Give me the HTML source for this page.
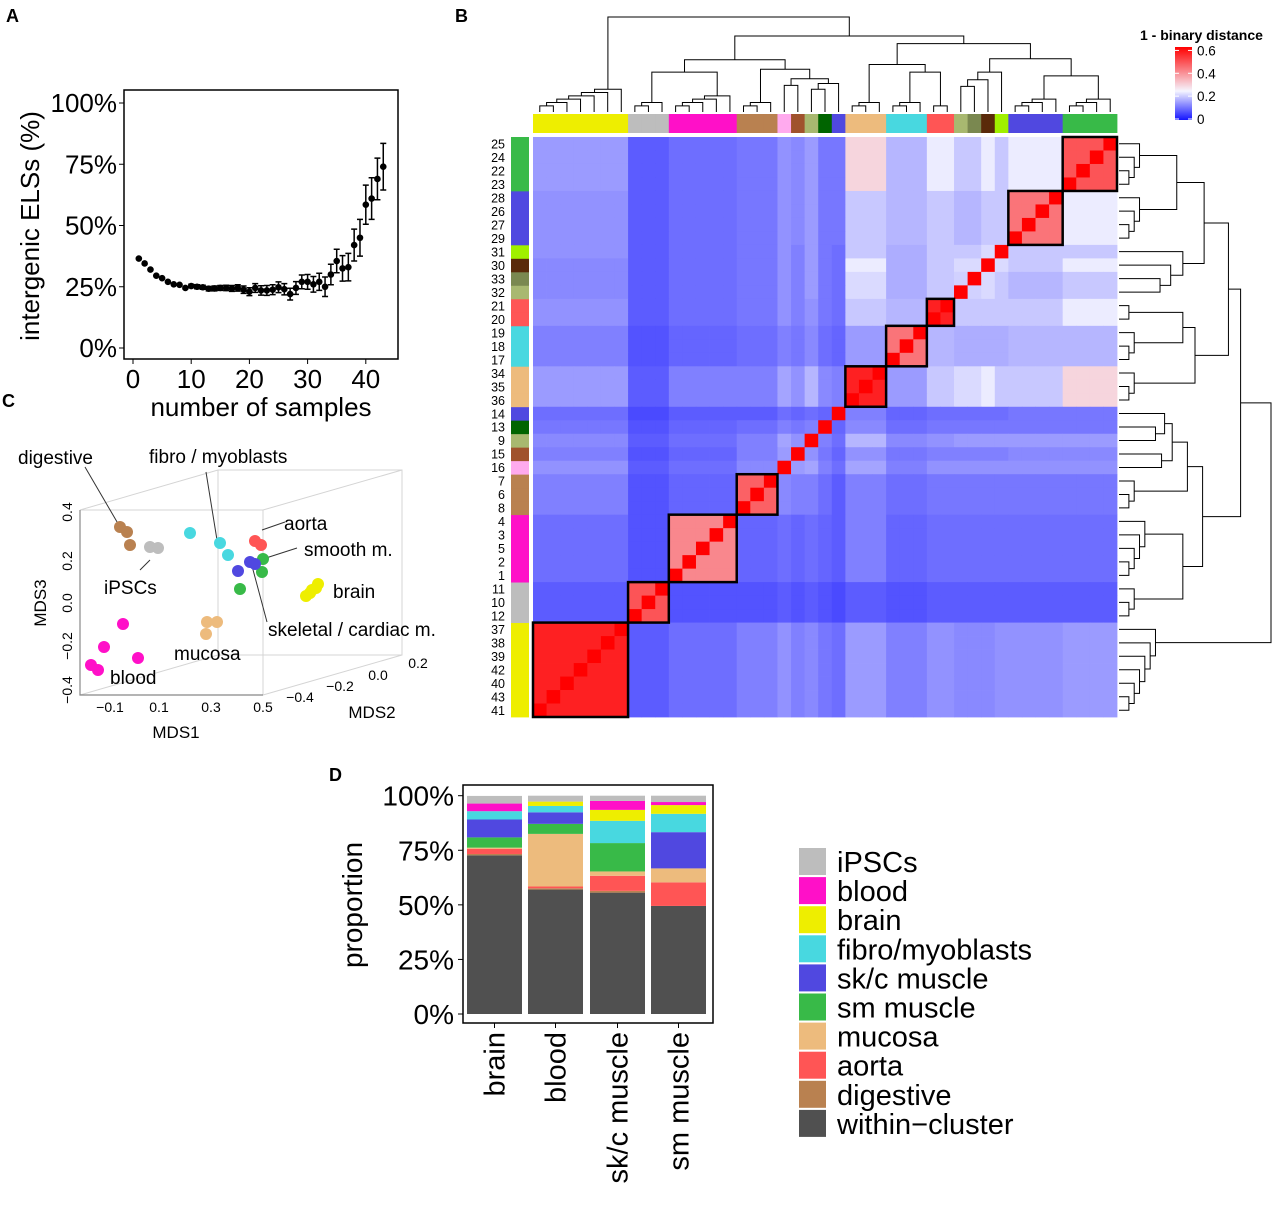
<!DOCTYPE html>
<html><head><meta charset="utf-8">
<style>
body{margin:0;background:#fff;}
svg text{font-family:"Liberation Sans",Arial,sans-serif;}
</style></head>
<body>
<svg id="fig" width="1280" height="1203" viewBox="0 0 1280 1203" xmlns="http://www.w3.org/2000/svg">
<g id="pA"></g>
<g id="pB"></g>
<g id="pC"></g>
<g id="pD"></g>
</svg>
<script>
// ---------- Panel A data ----------
const aSamples = [1,2,3,4,5,6,7,8,9,10,11,12,13,14,15,16,17,18,19,20,21,22,23,24,25,26,27,28,29,30,31,32,33,34,35,36,37,38,39,40,41,42,43];
const aMeans = [36.5,34.5,32,29.5,28.5,27,26,25.8,24.5,25.3,25,24.8,24.2,24.3,24.5,24.5,24.3,24.5,23.8,23,24.5,23.5,23.5,23.8,24.8,24,22,24.5,27,27,26,27,25,30,35.5,32.5,33,42,45,58.5,61,69,74];
const aErrs = [0.3,0.3,0.3,0.3,0.3,0.4,0.4,0.5,0.6,0.7,0.8,0.8,0.9,1,1,1.1,1.2,1.3,1.5,1.6,1.8,1.9,2,2,2.2,2.3,2.4,2.6,2.8,3,3.2,3.5,4,4.2,4.8,5.2,5.6,6.5,7.5,8,8.5,8.5,9.5];
const aYTicks = [0,25,50,75,100];
const aXTicks = [0,10,20,30,40];

// ---------- Panel B data ----------
const bGroupNames = ["brain","iPSC","blood","digestive","pink","brown","olive","darkgreen","blue1","mucosa","fibro","aorta","olive2","darkolive","darkbrown","lime","skc","sm"];
const bGroupColors = ["#EEEE00","#BDBDBD","#FF10C8","#B98150","#FFAAEE","#A0522D","#A8B870","#006400","#5048E0","#EDBB7D","#48D8E0","#FF5555","#A8B870","#7A8850","#5A2A0A","#A0F000","#5048E0","#38BA48"];
const bGroupSizes = [7,3,5,3,1,1,1,1,1,3,3,2,1,1,1,1,4,4];
const bLeafLabels = ["41","43","40","42","39","38","37","12","10","11","1","2","5","3","4","8","6","7","16","15","9","13","14","36","35","34","17","18","19","20","21","32","33","30","31","29","27","26","28","23","22","24","25"];
const bSim = [
[.58,.08,.10,.12,.14,.12,.13,.11,.10,.15,.12,.14,.13,.13,.13,.14,.14,.15],
[.08,.50,.07,.07,.08,.07,.08,.07,.06,.08,.07,.08,.08,.08,.08,.08,.08,.08],
[.10,.07,.42,.09,.10,.09,.10,.09,.08,.12,.09,.10,.10,.10,.10,.10,.10,.10],
[.12,.07,.09,.48,.13,.12,.12,.10,.08,.12,.10,.11,.11,.11,.11,.11,.11,.11],
[.14,.08,.10,.13,1,.15,.16,.12,.10,.16,.12,.14,.14,.14,.14,.14,.14,.14],
[.12,.07,.09,.12,.15,1,.14,.11,.09,.14,.11,.12,.12,.12,.12,.12,.13,.13],
[.13,.08,.10,.12,.16,.14,1,.12,.10,.18,.13,.14,.15,.15,.15,.15,.15,.15],
[.11,.07,.09,.10,.12,.11,.12,1,.09,.13,.10,.11,.11,.11,.11,.11,.11,.11],
[.10,.06,.08,.08,.10,.09,.10,.09,1,.12,.09,.10,.10,.10,.10,.10,.11,.11],
[.15,.08,.12,.12,.16,.14,.18,.13,.12,.58,.15,.20,.22,.22,.24,.20,.20,.30],
[.12,.07,.09,.10,.12,.11,.13,.10,.09,.15,.45,.18,.17,.17,.17,.17,.18,.18],
[.14,.08,.10,.11,.14,.12,.14,.11,.10,.20,.18,.58,.20,.20,.20,.20,.20,.24],
[.13,.08,.10,.11,.14,.12,.15,.11,.10,.22,.17,.20,1,.21,.22,.20,.18,.20],
[.13,.08,.10,.11,.14,.12,.15,.11,.10,.22,.17,.20,.21,1,.22,.20,.18,.20],
[.13,.08,.10,.11,.14,.12,.15,.11,.10,.24,.17,.20,.22,.22,1,.22,.20,.24],
[.14,.08,.10,.11,.14,.12,.15,.11,.10,.20,.17,.20,.20,.20,.22,1,.20,.20],
[.14,.08,.10,.11,.14,.13,.15,.11,.11,.20,.18,.20,.18,.18,.20,.20,.45,.24],
[.15,.08,.10,.11,.14,.13,.15,.11,.11,.30,.18,.24,.20,.20,.24,.20,.24,.50]];
const bBoxedGroups = [0,1,2,3,9,10,11,16,17];
const bTree = [1.0, 0, [0.8, [0.55,[0.42,1,2],[0.45,3,[0.35,[0.28,4,5],[0.3,[0.24,6,7],8]]]], [0.72,[0.5,9,[0.42,10,11]],[0.56,[0.42,[0.34,[0.27,12,13],14],15],[0.38,16,17]]]]];
const bLegendTicks = [0,0.2,0.4,0.6];

// ---------- Panel C data ----------
const cGroups = ["digestive","iPSCs","fibro","aorta","smooth","skeletal","brain","mucosa","blood"];
const cColors = ["#B98150","#BDBDBD","#48D8E0","#FF5555","#38BA48","#5048E0","#EEEE00","#EDBB7D","#FF10C8"];
const cPtsX = [[120,127,130],[150,158],[190,220,228],[255,261],[263,262,240],[238,250,255],[312,318,306,310,316],[207,217,206],[123,104,138,91,98]];
const cPtsY = [[527,532,545],[547,548],[533,543,555],[541,545],[559,572,589],[571,562,564],[590,584,596,593,588],[622,622,634],[624,647,658,665,670]];

// ---------- Panel D data ----------
const dCats = ["brain","blood","sk/c muscle","sm muscle"];
const dSeries = ["within\u2212cluster","digestive","aorta","mucosa","sm muscle","sk/c muscle","fibro/myoblasts","brain","blood","iPSCs"];
const dColors = ["#505050","#B98150","#FF5555","#EDBB7D","#38BA48","#5048E0","#48D8E0","#EEEE00","#FF10C8","#BDBDBD"];
const dWithin = [72.7,57,55.6,49.5];
const dDigestive = [0.6,0.6,0.8,0];
const dAorta = [2.3,0.8,6.9,10.8];
const dMucosa = [0.6,24.1,2,6.4];
const dSm = [4.7,4.6,13,0];
const dSk = [8.2,5.3,0,16.6];
const dFibro = [3.8,2.9,10.2,8.4];
const dBrain = [0,2,5,4];
const dBlood = [3.5,0,4.1,1.4];
const dIpsc = [3.5,2.7,2.4,2.9];
const dYTicks = [0,25,50,75,100];

const NS="http://www.w3.org/2000/svg";
function mk(parent,tag,attrs,text){const e=document.createElementNS(NS,tag);for(const k in attrs)e.setAttribute(k,attrs[k]);if(text!==undefined)e.textContent=text;parent.appendChild(e);return e;}

// ===== Panel A =====
(function(){
const g=document.getElementById('pA');
const X=n=>133+n*5.82, Y=v=>348-v*2.45;
let t=mk(g,'text',{x:6,y:22,'font-size':18,'font-weight':'bold'},'A');


let r=mk(g,'rect',{x:124,y:90,width:274,height:269,fill:'none',stroke:'#000','stroke-width':1.5});


aYTicks.forEach(v=>{
 mk(g,'line',{x1:119,x2:124,y1:Y(v),y2:Y(v),stroke:'#000'});
 let tx=mk(g,'text',{x:117,y:Y(v)+9,'font-size':26,'text-anchor':'end'},v+'%');
 
 
});
aXTicks.forEach(v=>{
 mk(g,'line',{x1:X(v),x2:X(v),y1:359,y2:364,stroke:'#000'});
 let tx=mk(g,'text',{x:X(v),y:388,'font-size':26,'text-anchor':'middle'},v);
 
 
});
let yt=mk(g,'text',{x:0,y:0,'font-size':26,'text-anchor':'middle',transform:'translate(39,226) rotate(-90)'},'intergenic ELSs (%)');


let xt=mk(g,'text',{x:261,y:416,'font-size':26,'text-anchor':'middle'},'number of samples');


aSamples.forEach((n,i)=>{
 const x=X(n),m=aMeans[i],e=aErrs[i];
 if(e>0.6){
  const eb=mk(g,'path',{d:`M${x-3},${Y(m+e)}H${x+3}M${x},${Y(m+e)}V${Y(m-e)}M${x-3},${Y(m-e)}H${x+3}`,stroke:'#000','stroke-width':1.5,fill:'none'});
  
  
 }
 const c=mk(g,'circle',{cx:x,cy:Y(m),r:3.3,fill:'#000'});
 
 
});
})();

// ===== Panel B =====
(function(){
const g=document.getElementById('pB');
const x0=533,y0=137,N=43,cw=(1117-533)/N,rh=(717-137)/N;
let t=mk(g,'text',{x:455,y:22,'font-size':18,'font-weight':'bold'},'B');


const leafGroup=[];const groupStart=[];
bGroupSizes.forEach((s,gi)=>{groupStart.push(leafGroup.length);for(let k=0;k<s;k++)leafGroup.push(gi);});
function col(v){
 const lo=[20,20,255],mid=[245,245,255],hi=[255,0,0];let a,b,t;
 if(v<=0.25){a=lo;b=mid;t=v/0.25;}else{a=mid;b=hi;t=Math.min(1,(v-0.25)/0.38);}
 return 'rgb('+a.map((c,i)=>Math.round(c+(b[i]-c)*t)).join(',')+')';
}
const hm=mk(g,'g',{});


for(let i=0;i<N;i++){const ri=N-1-i;for(let j=0;j<N;j++){
 const gr=leafGroup[ri],gc=leafGroup[j];
 let v=(ri===j)?1:bSim[Math.min(gr,gc)][Math.max(gr,gc)];
 const c=mk(hm,'rect',{x:x0+j*cw,y:y0+i*rh,width:cw+0.4,height:rh+0.4,fill:col(v)});
 
 
}}
bBoxedGroups.forEach(gi=>{
 const s=groupStart[gi],n=bGroupSizes[gi];
 const b=mk(g,'rect',{x:x0+s*cw,y:y0+(N-s-n)*rh,width:n*cw,height:n*rh,fill:'none',stroke:'#000','stroke-width':2.5});
 
 
});
for(let j=0;j<N;j++){
 const c=mk(g,'rect',{x:x0+j*cw,y:114,width:cw+0.4,height:19,fill:bGroupColors[leafGroup[j]]});
 
 
 const r=mk(g,'rect',{x:511,y:y0+(N-1-j)*rh,width:18,height:rh+0.4,fill:bGroupColors[leafGroup[j]]});
 
 
 const l=mk(g,'text',{x:505,y:y0+(N-1-j)*rh+rh-2,'font-size':12.5,'text-anchor':'end'},bLeafLabels[j]);
 
 
}
function groupSub(gi){const s=groupStart[gi],n=bGroupSizes[gi];let node={leaf:s};
 for(let k=1;k<n;k++)node={h:0.03+0.035*k,l:node,r:{leaf:s+k}};return node;}
function conv(t){if(typeof t==='number')return groupSub(t);return {h:t[0],l:conv(t[1]),r:conv(t[2])};}
const tree=conv(bTree);
const segsTop=[];
function walk(n){if(n.leaf!==undefined)return {p:n.leaf+0.5,h:0};
 const a=walk(n.l),b=walk(n.r);
 segsTop.push([a.p,a.h,b.p,b.h,n.h]);return {p:(a.p+b.p)/2,h:n.h};}
walk(tree);
const dt=mk(g,'path',{fill:'none',stroke:'#000','stroke-width':1,d:segsTop.map(s=>{
 const X=p=>x0+p*cw,Y=h=>112-h*95;
 return `M${X(s[0])},${Y(s[1])}V${Y(s[4])}H${X(s[2])}V${Y(s[3])}`;}).join('')});


const dr=mk(g,'path',{fill:'none',stroke:'#000','stroke-width':1,d:segsTop.map(s=>{
 const Y=p=>y0+(N-p)*rh,X=h=>1119+h*152;
 return `M${X(s[1])},${Y(s[0])}H${X(s[4])}V${Y(s[2])}H${X(s[3])}`;}).join('')});


const defs=mk(g,'defs',{});const lg=mk(defs,'linearGradient',{id:'lg',x1:0,y1:1,x2:0,y2:0});
[0,0.1,0.2,0.25,0.35,0.45,0.55,0.63].forEach(v=>mk(lg,'stop',{offset:v/0.63,'stop-color':col(v)}));
let lt=mk(g,'text',{x:1140,y:40,'font-size':14,'font-weight':'bold'},'1 - binary distance');


let lb=mk(g,'rect',{x:1175,y:47,width:17,height:73,fill:'url(#lg)'});


bLegendTicks.forEach(v=>{const y=119-v/0.63*72;
 mk(g,'line',{x1:1175,x2:1179,y1:y,y2:y,stroke:'#fff'});mk(g,'line',{x1:1188,x2:1192,y1:y,y2:y,stroke:'#fff'});
 const tx=mk(g,'text',{x:1197,y:y+5,'font-size':13.5},String(v));
 
 
});
})();

// ===== Panel C =====
(function(){
const g=document.getElementById('pC');
let t=mk(g,'text',{x:2,y:407,'font-size':18,'font-weight':'bold'},'C');


const box=mk(g,'path',{fill:'none',stroke:'#d4d4d4','stroke-width':1,d:'M80,510L218,470H402V655H218V470M263,510L402,470M263,695L402,655M80,510H263V695M218,655L80,695'});


mk(g,'path',{fill:'none',stroke:'#888','stroke-width':1.2,d:'M80,510V695H263'});
[[0.4,512],[0.2,561],[0.0,603],[-0.2,646],[-0.4,690]].forEach(a=>{
 const tx=mk(g,'text',{x:0,y:0,'font-size':14,'text-anchor':'middle',transform:`translate(72,${a[1]}) rotate(-90)`},a[0].toFixed(1).replace('-','\u2212'));
 
 
});
[['\u22120.1',110],['0.1',159],['0.3',211],['0.5',263]].forEach(a=>{
 const tx=mk(g,'text',{x:a[1],y:712,'font-size':14,'text-anchor':'middle'},a[0]);
 
 
});
[['\u22120.4',300,702],['\u22120.2',340,691],['0.0',378,680],['0.2',418,668]].forEach(a=>{
 const tx=mk(g,'text',{x:a[1],y:a[2],'font-size':14,'text-anchor':'middle'},a[0]);
 
 
});
[['MDS1',176,738],['MDS2',372,718]].forEach(a=>{
 const tx=mk(g,'text',{x:a[1],y:a[2],'font-size':17,'text-anchor':'middle'},a[0]);
 
 
});
let m3=mk(g,'text',{x:0,y:0,'font-size':17,'text-anchor':'middle',transform:'translate(46,603) rotate(-90)'},'MDS3');


mk(g,'path',{fill:'none',stroke:'#333','stroke-width':1,d:'M85,467L120,527M206,472L217,540M262,530L285,522M266,558L297,548M252,566L267,622M140,570L150,560'});
cPtsX.forEach((xs,gi)=>xs.forEach((x,k)=>{
 const c=mk(g,'circle',{cx:x,cy:cPtsY[gi][k],r:6,fill:cColors[gi]});
 
 
}));
[['digestive',18,464],['fibro / myoblasts',149,463],['aorta',284,530],['smooth m.',304,556],['iPSCs',104,594],['brain',333,598],['skeletal / cardiac m.',268,636],['mucosa',174,660],['blood',110,684]].forEach(a=>{
 const tx=mk(g,'text',{x:a[1],y:a[2],'font-size':19},a[0]);
 
 
});
})();

// ===== Panel D =====
(function(){
const g=document.getElementById('pD');
const Y=v=>1014-v*2.183;
let t=mk(g,'text',{x:329,y:781,'font-size':18,'font-weight':'bold'},'D');


const series=[dWithin,dDigestive,dAorta,dMucosa,dSm,dSk,dFibro,dBrain,dBlood,dIpsc];
const bx=[467,528,590,651],bw=55;
dCats.forEach((c,i)=>{let acc=0;
 series.forEach((s,k)=>{const v=s[i];if(v<=0)return;
  const r=mk(g,'rect',{x:bx[i],y:Y(acc+v),width:bw,height:Y(acc)-Y(acc+v),fill:dColors[k]});
  
  
  acc+=v;});
 mk(g,'line',{x1:bx[i]+bw/2,x2:bx[i]+bw/2,y1:1023,y2:1028,stroke:'#000'});
 const tx=mk(g,'text',{x:0,y:0,'font-size':29,'text-anchor':'end',transform:`translate(${bx[i]+bw/2+10},1032) rotate(-90)`},c);
 
 
});
const fr=mk(g,'rect',{x:463,y:785,width:250,height:238,fill:'none',stroke:'#000','stroke-width':1.5});


dYTicks.forEach(v=>{mk(g,'line',{x1:458,x2:463,y1:Y(v),y2:Y(v),stroke:'#000'});
 const tx=mk(g,'text',{x:454,y:Y(v)+10,'font-size':28,'text-anchor':'end'},v+'%');
 
 
});
const yt=mk(g,'text',{x:0,y:0,'font-size':28,'text-anchor':'middle',transform:'translate(362,905) rotate(-90)'},'proportion');


const order=[9,8,7,6,5,4,3,2,1,0];
order.forEach((k,i)=>{const y=848+i*29.1;
 const sw=mk(g,'rect',{x:799,y:y,width:27,height:27,fill:dColors[k]});
 
 
 const tx=mk(g,'text',{x:837,y:y+24,'font-size':29},dSeries[k]);
 
 
});
})();
</script>
</body></html>
